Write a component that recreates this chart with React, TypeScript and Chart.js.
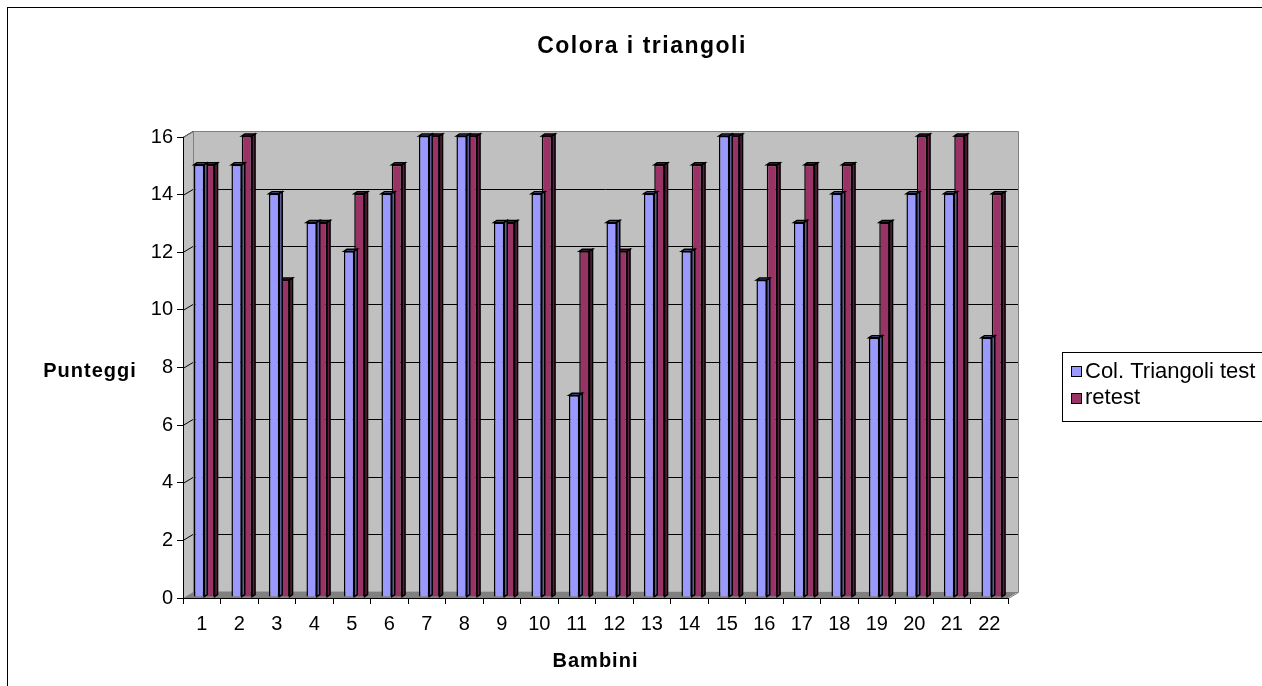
import React, { useEffect, useRef } from "react";
import { Chart, registerables } from "chart.js";

Chart.register(...registerables);

const categories = ["1", "2", "3", "4", "5", "6", "7", "8", "9", "10", "11", "12", "13", "14", "15", "16", "17", "18", "19", "20", "21", "22"];
const testScores = [15, 15, 14, 13, 12, 14, 16, 16, 13, 14, 7, 13, 14, 12, 16, 11, 13, 14, 9, 14, 14, 9];
const retestScores = [15, 16, 11, 13, 14, 15, 16, 16, 13, 16, 12, 12, 15, 15, 16, 15, 15, 15, 13, 16, 16, 14];
const seriesLabels = ["Col. Triangoli test", "retest"];
const chartTitle = "Colora i triangoli";
const xTitle = "Bambini";
const yTitle = "Punteggi";
const yTicks = [0, 2, 4, 6, 8, 10, 12, 14, 16];

const W = 1262;
const H = 686;
const FONT = "'Liberation Sans', Arial, sans-serif";
const BLUE = "#9999FF";
const MAROON = "#993366";
const BLUE_TOP = "#7A7ACC";
const BLUE_SIDE = "#5C5C99";
const MAROON_TOP = "#7A2952";
const MAROON_SIDE = "#5C1F3D";
const DX = 10;
const DY = -6;
const BAR_D = 3;
const BAR_DY = -2;

const wallsPlugin = {
  id: "walls3d",
  beforeDraw(chart: any) {
    const ctx = chart.ctx;
    const { left, right, top, bottom } = chart.chartArea;
    const ys = chart.scales.y;
    ctx.save();
    ctx.fillStyle = "#FFFFFF";
    ctx.fillRect(0, 0, W, H);
    // outer frame
    ctx.strokeStyle = "#000000";
    ctx.lineWidth = 1;
    ctx.strokeRect(7.5, 7.5, W + 20, H + 20);
    // back wall
    ctx.fillStyle = "#C0C0C0";
    ctx.fillRect(left + DX, top + DY, right - left, bottom - top);
    // left wall
    ctx.beginPath();
    ctx.moveTo(left, top);
    ctx.lineTo(left + DX, top + DY);
    ctx.lineTo(left + DX, bottom + DY);
    ctx.lineTo(left, bottom);
    ctx.closePath();
    ctx.fillStyle = "#C0C0C0";
    ctx.fill();
    // floor
    ctx.beginPath();
    ctx.moveTo(left, bottom);
    ctx.lineTo(left + DX, bottom + DY);
    ctx.lineTo(right + DX, bottom + DY);
    ctx.lineTo(right, bottom);
    ctx.closePath();
    ctx.fillStyle = "#808080";
    ctx.fill();
    // gridlines
    ctx.strokeStyle = "#000000";
    ctx.lineWidth = 1;
    yTicks.forEach((v) => {
      if (v === 0) return;
      const py = Math.round(ys.getPixelForValue(v)) + 0.5;
      ctx.beginPath();
      ctx.moveTo(left, py);
      ctx.lineTo(left + DX, py + DY);
      ctx.lineTo(right + DX, py + DY);
      ctx.stroke();
    });
    // wall outlines
    ctx.strokeStyle = "#808080";
    ctx.beginPath();
    ctx.moveTo(left + 0.5, top + 0.5);
    ctx.lineTo(left + DX + 0.5, top + DY + 0.5);
    ctx.lineTo(right + DX + 0.5, top + DY + 0.5);
    ctx.lineTo(right + DX + 0.5, bottom + DY + 0.5);
    ctx.lineTo(right + 0.5, bottom + 0.5);
    ctx.stroke();
    ctx.beginPath();
    ctx.moveTo(left + DX + 0.5, top + DY);
    ctx.lineTo(left + DX + 0.5, bottom + DY);
    ctx.lineTo(right + DX, bottom + DY + 0.5);
    ctx.stroke();
    ctx.restore();
  },
  beforeDatasetsDraw(chart: any) {
    chart.ctx.save();
    chart.ctx.translate(2.5, -1);
  },
  afterDatasetDraw(chart: any, args: any) {
    const ctx = chart.ctx;
    const idx = args.index;
    const topC = idx === 0 ? BLUE_TOP : MAROON_TOP;
    const sideC = idx === 0 ? BLUE_SIDE : MAROON_SIDE;
    ctx.save();
    ctx.strokeStyle = "#000000";
    ctx.lineWidth = 1.5;
    ctx.lineJoin = "miter";
    args.meta.data.forEach((bar: any) => {
      const { x, y, base, width } = bar.getProps(["x", "y", "base", "width"], true);
      const l = x - width / 2;
      const r = x + width / 2;
      ctx.beginPath();
      ctx.moveTo(l, y);
      ctx.lineTo(l + BAR_D, y + BAR_DY);
      ctx.lineTo(r + BAR_D, y + BAR_DY);
      ctx.lineTo(r, y);
      ctx.closePath();
      ctx.fillStyle = topC;
      ctx.fill();
      ctx.stroke();
      ctx.beginPath();
      ctx.moveTo(r, y);
      ctx.lineTo(r + BAR_D, y + BAR_DY);
      ctx.lineTo(r + BAR_D, base + BAR_DY);
      ctx.lineTo(r, base);
      ctx.closePath();
      ctx.fillStyle = sideC;
      ctx.fill();
      ctx.stroke();
    });
    ctx.restore();
  },
  afterDatasetsDraw(chart: any) {
    chart.ctx.restore();
  },
  afterDraw(chart: any) {
    const ctx = chart.ctx;
    const { left, right } = chart.chartArea;
    ctx.save();
    ctx.fillStyle = "#000000";
    ctx.textBaseline = "alphabetic";
    // title
    ctx.font = `bold 23px ${FONT}`;
    (ctx as any).letterSpacing = "1.5px";
    ctx.textAlign = "center";
    ctx.fillText(chartTitle, 642, 53);
    // axis titles
    ctx.font = `bold 20px ${FONT}`;
    (ctx as any).letterSpacing = "1px";
    ctx.fillText(xTitle, (left + right) / 2, 667);
    ctx.fillText(yTitle, 90, 377);
    (ctx as any).letterSpacing = "0px";
    // legend
    ctx.strokeStyle = "#000000";
    ctx.lineWidth = 1;
    ctx.strokeRect(1062.5, 352.5, 300, 69);
    const colors = [BLUE, MAROON];
    const rowsY = [366, 393];
    const baseY = [378, 404];
    ctx.font = `22px ${FONT}`;
    ctx.textAlign = "left";
    seriesLabels.forEach((lab, i) => {
      ctx.fillStyle = colors[i];
      ctx.fillRect(1071, rowsY[i], 10, 10);
      ctx.strokeRect(1071.5, rowsY[i] + 0.5, 10, 10);
      ctx.fillStyle = "#000000";
      ctx.fillText(lab, 1085, baseY[i]);
    });
    ctx.restore();
  },
};

export default function App() {
  const ref = useRef<HTMLCanvasElement | null>(null);
  useEffect(() => {
    if (!ref.current) return;
    const chart = new Chart(ref.current, {
      type: "bar",
      data: {
        labels: categories,
        datasets: [
          {
            label: seriesLabels[0],
            data: testScores,
            backgroundColor: BLUE,
            borderColor: "#000000",
            borderWidth: 1.5,
            clip: false as any,
          },
          {
            label: seriesLabels[1],
            data: retestScores,
            backgroundColor: MAROON,
            borderColor: "#000000",
            borderWidth: 1.5,
            clip: false as any,
          },
        ],
      },
      options: {
        responsive: false,
        animation: false,
        devicePixelRatio: 1,
        layout: { padding: { left: 0, top: 137, right: W - 1008, bottom: 0 } },
        datasets: { bar: { categoryPercentage: 0.55, barPercentage: 1.0 } },
        plugins: {
          legend: { display: false },
          title: { display: false },
          tooltip: { enabled: false },
        },
        scales: {
          x: {
            afterFit: (s: any) => {
              s.height = H - 598;
            },
            grid: {
              display: true,
              drawOnChartArea: false,
              drawTicks: true,
              tickLength: 6,
              color: "#000000",
              offset: true,
            },
            border: { display: true, color: "#000000", width: 1 },
            ticks: {
              color: "#000000",
              font: { family: FONT, size: 20 },
              padding: 8,
              maxRotation: 0,
              autoSkip: false,
            },
          },
          y: {
            min: 0,
            max: 16,
            afterFit: (s: any) => {
              s.width = 183;
            },
            grid: {
              display: true,
              drawOnChartArea: false,
              drawTicks: true,
              tickLength: 6,
              color: "#000000",
            },
            border: { display: true, color: "#000000", width: 1 },
            ticks: {
              stepSize: 2,
              color: "#000000",
              font: { family: FONT, size: 20 },
              padding: 4,
            },
          },
        },
      },
      plugins: [wallsPlugin],
    });
    return () => chart.destroy();
  }, []);
  return (
    <div style={{ position: "fixed", left: 0, top: 0, width: W, height: H, background: "#fff" }}>
      <canvas ref={ref} width={W} height={H} style={{ display: "block" }} />
    </div>
  );
}
